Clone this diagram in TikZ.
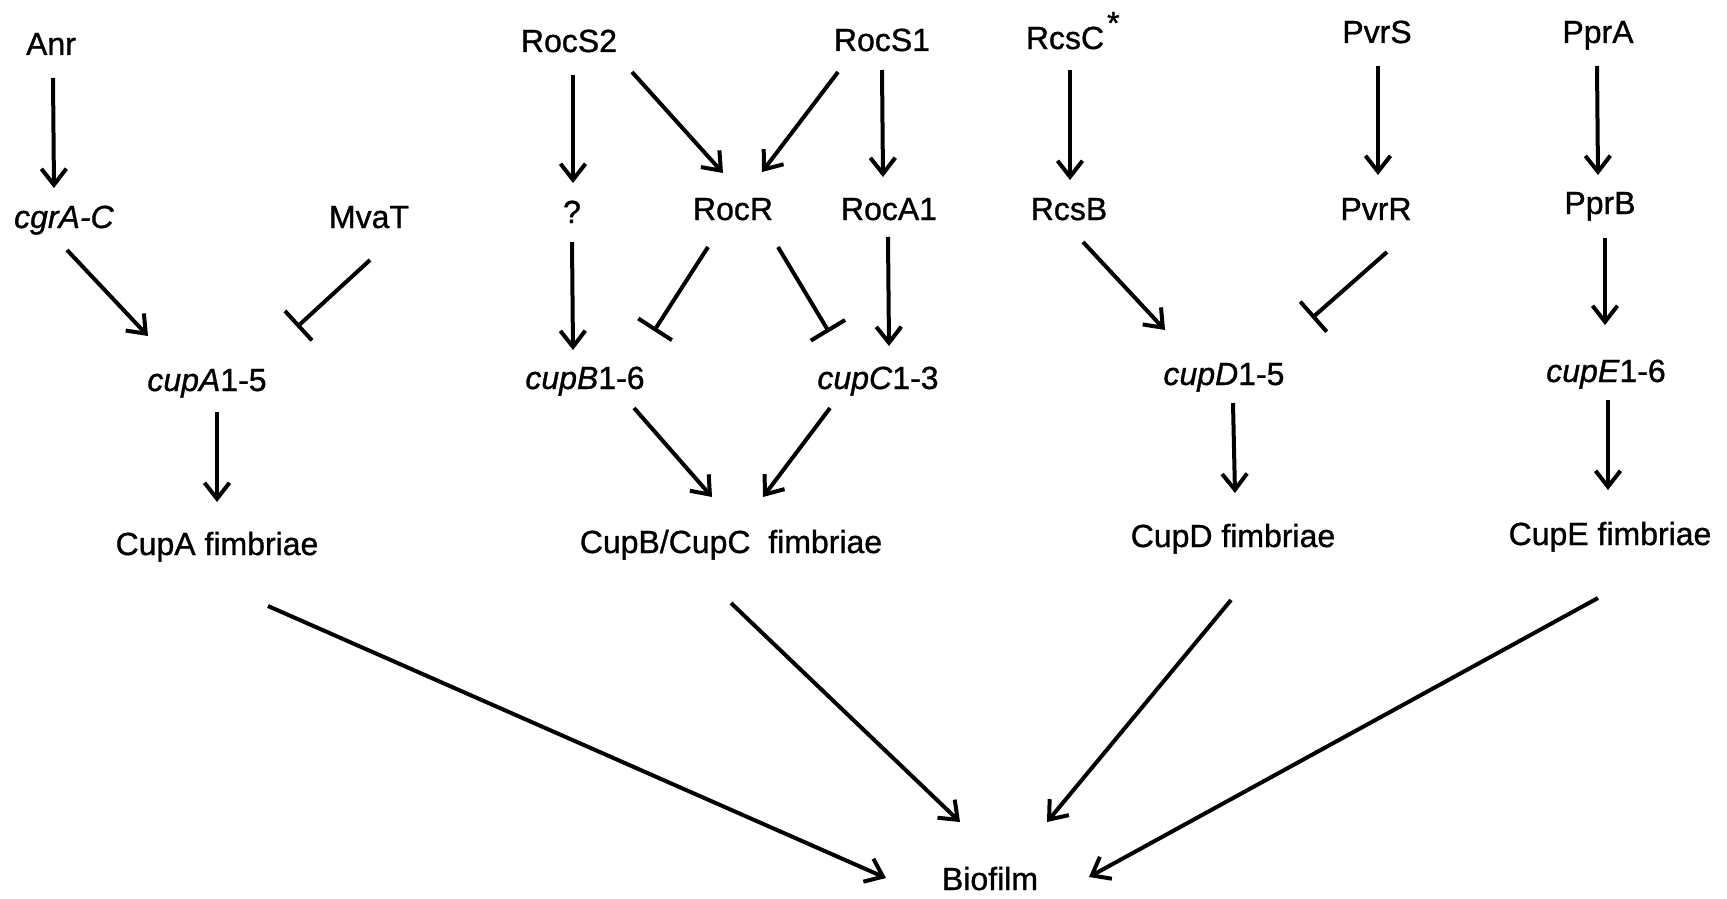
\documentclass[tikz,border=0pt]{standalone}
\usepackage{fontspec}
\setmainfont{Liberation Sans}[FakeBold=1]
\usetikzlibrary{arrows.meta}
\begin{document}
\begin{tikzpicture}[x=1pt,y=-1pt,
  lbl/.style={inner sep=0pt, anchor=base, font=\fontsize{32}{38}\selectfont},
  act/.style={line width=4pt, -{Straight Barb[length=16pt,width=25pt]}},
  inh/.style={line width=4pt, -{Bar[width=40pt]}}]
\useasboundingbox (0,0) rectangle (1727,899);
% nodes
\node[lbl] (anr)   at (51,55)  {Anr};
\node[lbl] (cgra)  at (64,228) {\textit{cgrA-C}};
\node[lbl] (mvat)  at (369,228) {MvaT};
\node[lbl] (cupa)  at (207,391) {\textit{cupA}1-5};
\node[lbl] (cupaf) at (217,555) {CupA fimbriae};
\node[lbl] (rocs2) at (569,52) {RocS2};
\node[lbl] (rocs1) at (882,51) {RocS1};
\node[lbl] (q)     at (572,223) {?};
\node[lbl] (rocr)  at (733,220) {RocR};
\node[lbl] (roca1) at (889,220) {RocA1};
\node[lbl] (cupb)  at (585,389) {\textit{cupB}1-6};
\node[lbl] (cupc)  at (878,389) {\textit{cupC}1-3};
\node[lbl] (cupbcf) at (731,553) {CupB/CupC\ \ fimbriae};
\node[lbl] (rcsc)  at (1065,49) {RcsC\rlap{\kern3pt\raisebox{15pt}{*}}};
\node[lbl] (rcsb)  at (1069,220) {RcsB};
\node[lbl] (pvrs)  at (1377,43) {PvrS};
\node[lbl] (pvrr)  at (1376,220) {PvrR};
\node[lbl] (ppra)  at (1598,43) {PprA};
\node[lbl] (pprb)  at (1600,214) {PprB};
\node[lbl] (cupd)  at (1224,385) {\textit{cupD}1-5};
\node[lbl] (cupe)  at (1606,382) {\textit{cupE}1-6};
\node[lbl] (cupdf) at (1233,547) {CupD fimbriae};
\node[lbl] (cupef) at (1610,545) {CupE fimbriae};
\node[lbl] (bio)   at (990,890) {Biofilm};
% connectors
\draw[act] ([shift={(2,23)}]anr.base) -- ([shift={(-10,-40)}]cgra.base);
\draw[act] ([shift={(3,22)}]cgra.base) -- ([shift={(-59,-55)}]cupa.base);
\draw[inh] ([shift={(1,32)}]mvat.base) -- ([shift={(90,-64)}]cupa.base);
\draw[act] ([shift={(10,21)}]cupa.base) -- ([shift={(0,-53)}]cupaf.base);
\draw[act] ([shift={(4,23)}]rocs2.base) -- ([shift={(1,-40)}]q.base);
\draw[act] ([shift={(63,20)}]rocs2.base) -- ([shift={(-10,-47)}]rocr.base);
\draw[act] ([shift={(-44,21)}]rocs1.base) -- ([shift={(29,-48)}]rocr.base);
\draw[act] ([shift={(0,19)}]rocs1.base) -- ([shift={(-6,-43)}]roca1.base);
\draw[act] ([shift={(0,19)}]q.base) -- ([shift={(-12,-39)}]cupb.base);
\draw[inh] ([shift={(-25,27)}]rocr.base) -- ([shift={(69,-58)}]cupb.base);
\draw[inh] ([shift={(45,27)}]rocr.base) -- ([shift={(-49,-57)}]cupc.base);
\draw[act] ([shift={(-1,17)}]roca1.base) -- ([shift={(11,-43)}]cupc.base);
\draw[act] ([shift={(49,19)}]cupb.base) -- ([shift={(-19,-56)}]cupbcf.base);
\draw[act] ([shift={(-48,19)}]cupc.base) -- ([shift={(32,-56)}]cupbcf.base);
\draw[act] ([shift={(5,21)}]rcsc.base) -- ([shift={(1,-40)}]rcsb.base);
\draw[act] ([shift={(1,23)}]pvrs.base) -- ([shift={(2,-45)}]pvrr.base);
\draw[act] ([shift={(-1,23)}]ppra.base) -- ([shift={(-2,-39)}]pprb.base);
\draw[act] ([shift={(14,22)}]rcsb.base) -- ([shift={(-59,-55)}]cupd.base);
\draw[inh] ([shift={(11,32)}]pvrr.base) -- ([shift={(88,-67)}]cupd.base);
\draw[act] ([shift={(5,24)}]pprb.base) -- ([shift={(-1,-57)}]cupe.base);
\draw[act] ([shift={(9,18)}]cupd.base) -- ([shift={(2,-54)}]cupdf.base);
\draw[act] ([shift={(2,18)}]cupe.base) -- ([shift={(-2,-55)}]cupef.base);
\draw[act] ([shift={(51,51)}]cupaf.base) -- ([shift={(-104,-12)}]bio.base);
\draw[act] ([shift={(0,50)}]cupbcf.base) -- ([shift={(-30,-68)}]bio.base);
\draw[act] ([shift={(-2,53)}]cupdf.base) -- ([shift={(57,-68)}]bio.base);
\draw[act] ([shift={(-12,53)}]cupef.base) -- ([shift={(99,-13)}]bio.base);
\end{tikzpicture}
\end{document}
